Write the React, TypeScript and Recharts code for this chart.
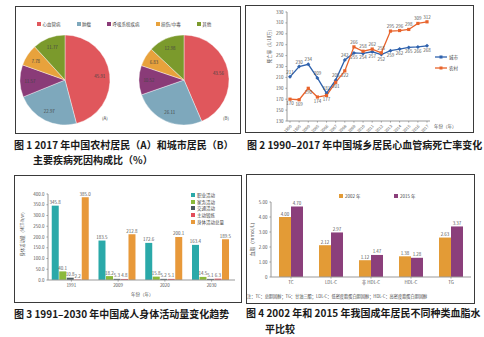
import React from 'react';
import {
  PieChart, Pie, Cell, LineChart, Line, BarChart, Bar, XAxis, YAxis, LabelList,
} from 'recharts';

const FONT = '"Noto Sans CJK SC", "Noto Sans", sans-serif';

// 图1 死因构成
const causeNames = ['心血管病', '肿瘤', '呼吸系统疾病', '损伤/中毒', '其他'];
const causeColors = ['#e0575c', '#7ea8bc', '#8a3b78', '#e8a23c', '#7b9a2c'];
const ruralShare = [45.91, 22.97, 11.57, 7.78, 11.77];
const urbanShare = [43.56, 26.11, 10.52, 6.83, 12.98];

// 图2 死亡率（1/10万）
const years = ['1990', '1995', '2000', '2005', '2006', '2007', '2008', '2009', '2010', '2011', '2012', '2013', '2014', '2015', '2016', '2017'];
const urbanRate = [211, 230, 234, 209, 181, 205, 242, 255, 254, 257, 252, 259, 262, 265, 266, 268];
const ruralRate = [170, 169, 190, 174, 177, 201, 222, 266, 258, 262, 255, 295, 296, 298, 309, 312];
const rateTicks = [130, 150, 170, 190, 210, 230, 250, 270, 290, 310, 330];

// 图3 身体活动量（MET-h/w）
const activityYears = ['1991', '2009', '2020', '2030'];
const occupational = [345.8, 183.5, 172.6, 163.4];
const domestic = [40.1, 18.2, 15.8, 14.5];
const transport = [10.8, 5.3, 5.2, 5.1];
const exercise = [2.2, 4.8, 5.1, 6.3];
const totalActivity = [385.0, 212.8, 200.1, 189.5];
const activityTicks = [0, 50, 100, 150, 200, 250, 300, 350, 400];

// 图4 血脂（mmol/L）
const lipidNames = ['TC', 'LDL-C', '非 HDL-C', 'HDL-C', 'TG'];
const lipid2002 = [4.0, 2.12, 1.12, 1.38, 2.63];
const lipid2015 = [4.7, 2.97, 1.47, 1.28, 3.37];
const lipidTicks = [0, 1, 2, 3, 4, 5];

const URBAN = '#2f62ad';
const RURAL = '#e8632b';
const activitySeries = [
  { key: 'occ', name: '职业活动', color: '#2aa9a9', values: occupational },
  { key: 'dom', name: '家务活动', color: '#8bb93a', values: domestic },
  { key: 'tra', name: '交通活动', color: '#4b5a61', values: transport },
  { key: 'exe', name: '主动锻炼', color: '#e24d5a', values: exercise },
  { key: 'tot', name: '身体活动总量', color: '#e8993a', values: totalActivity },
];

const pieRural = causeNames.map((name, i) => ({ name, value: ruralShare[i] }));
const pieUrban = causeNames.map((name, i) => ({ name, value: urbanShare[i] }));
const rateData = years.map((year, i) => ({ year, urban: urbanRate[i], rural: ruralRate[i] }));
const activityData = activityYears.map((year, i) => {
  const row: any = { year };
  activitySeries.forEach((s) => { row[s.key] = s.values[i]; });
  return row;
});
const lipidData = lipidNames.map((name, i) => ({ name, y2002: lipid2002[i], y2015: lipid2015[i] }));

const tiny = { fontSize: 4.5, fill: '#555', fontFamily: FONT };
const RADIAN = Math.PI / 180;

function pieLabel(p: any) {
  const r = p.outerRadius * 0.78;
  const x = p.cx + r * Math.cos(-p.midAngle * RADIAN);
  const y = p.cy + r * Math.sin(-p.midAngle * RADIAN);
  return (
    <text x={x} y={y} textAnchor="middle" dominantBaseline="central" fontSize={4.4} fill="#444" fontFamily={FONT}>
      {p.value.toFixed(2)}
    </text>
  );
}

function rateLabel(series: 'urban' | 'rural') {
  return (p: any) => {
    const other = series === 'urban' ? ruralRate[p.index] : urbanRate[p.index];
    const above = p.value >= other;
    return (
      <text x={p.x} y={above ? p.y - 3 : p.y + 6} textAnchor="middle" {...tiny}>
        {p.value}
      </text>
    );
  };
}

const diamond = (p: any) => (
  <path key={`d${p.index}`} d={`M${p.cx},${p.cy - 2}L${p.cx + 2},${p.cy}L${p.cx},${p.cy + 2}L${p.cx - 2},${p.cy}Z`} fill={URBAN} />
);
const square = (p: any) => (
  <rect key={`s${p.index}`} x={p.cx - 1.6} y={p.cy - 1.6} width={3.2} height={3.2} fill={RURAL} />
);

const Box = ({ x, y, w, h }: any) => (
  <div style={{ position: 'absolute', left: x, top: y, width: w, height: h, border: '1px solid #3a3a3a', boxSizing: 'border-box' }} />
);

const At = ({ x, y, children, style }: any) => (
  <div style={{ position: 'absolute', left: x, top: y, whiteSpace: 'nowrap', lineHeight: 1, ...style }}>{children}</div>
);

const Rot = ({ x, y, size, children }: any) => (
  <div style={{ position: 'absolute', left: x, top: y, transform: 'translate(-50%, -50%) rotate(-90deg)', fontSize: size, whiteSpace: 'nowrap', color: '#555', lineHeight: 1 }}>
    {children}
  </div>
);

const Caption = ({ x, y, children }: any) => (
  <At x={x} y={y} style={{ fontSize: 10, fontWeight: 700, color: '#1a1a1a', lineHeight: '12px' }}>{children}</At>
);

export default function App() {
  return (
    <div style={{ position: 'absolute', left: 0, top: 0, width: 484, height: 337, background: '#fff', fontFamily: FONT, overflow: 'hidden' }}>
      {/* 图1 */}
      <Box x={15} y={6} w={226} h={128} />
      <div style={{ position: 'absolute', left: 37, top: 21, display: 'flex', gap: 16, fontSize: 4.5, color: '#444' }}>
        {causeNames.map((n, i) => (
          <div key={n} style={{ display: 'flex', alignItems: 'center', gap: 1.5 }}>
            <span style={{ width: 4, height: 4, background: causeColors[i], display: 'inline-block' }} />
            <span>{n}</span>
          </div>
        ))}
      </div>
      <div style={{ position: 'absolute', left: 15, top: 7 }}>
        <PieChart width={225} height={126} margin={{ top: 0, right: 0, bottom: 0, left: 0 }}>
          <Pie data={pieRural} dataKey="value" cx={50} cy={73} outerRadius={45} startAngle={90} endAngle={-270}
            stroke="#fff" strokeWidth={0.4} label={pieLabel} labelLine={false} isAnimationActive={false}>
            {pieRural.map((d, i) => <Cell key={d.name} fill={causeColors[i]} />)}
          </Pie>
          <Pie data={pieUrban} dataKey="value" cx={169} cy={73} outerRadius={45} startAngle={90} endAngle={-270}
            stroke="#fff" strokeWidth={0.4} label={pieLabel} labelLine={false} isAnimationActive={false}>
            {pieUrban.map((d, i) => <Cell key={d.name} fill={causeColors[i]} />)}
          </Pie>
        </PieChart>
      </div>
      <At x={102} y={116} style={{ fontSize: 4.5, color: '#444' }}>(A)</At>
      <At x={223} y={116} style={{ fontSize: 4.5, color: '#444' }}>(B)</At>
      <Caption x={14} y={139}>图 1 2017 年中国农村居民（A）和城市居民（B）</Caption>
      <Caption x={33} y={154}>主要疾病死因构成比（%）</Caption>

      {/* 图2 */}
      <Box x={245} y={5} w={229} h={128} />
      <div style={{ position: 'absolute', left: 245, top: 5 }}>
        <LineChart width={228} height={134} data={rateData} margin={{ top: 7, right: 43, bottom: 0, left: 0 }}>
          <XAxis dataKey="year" interval={0} angle={-45} textAnchor="end" height={18} tickSize={1.5}
            tick={{ ...tiny, fontSize: 4 }} stroke="#999" padding={{ left: 3, right: 3 }} />
          <YAxis domain={[130, 330]} ticks={rateTicks} width={42} tickSize={1.5} tick={tiny} stroke="#999" interval={0} />
          <Line dataKey="urban" stroke={URBAN} strokeWidth={1.3} dot={diamond} activeDot={false} isAnimationActive={false}>
            <LabelList dataKey="urban" content={rateLabel('urban')} />
          </Line>
          <Line dataKey="rural" stroke={RURAL} strokeWidth={1.3} dot={square} activeDot={false} isAnimationActive={false}>
            <LabelList dataKey="rural" content={rateLabel('rural')} />
          </Line>
        </LineChart>
      </div>
      <Rot x={269} y={45} size={4.5}>死亡率（1/10万）</Rot>
      {[{ n: '城市', c: URBAN, y: 54 }, { n: '农村', c: RURAL, y: 65 }].map((l) => (
        <div key={l.n} style={{ position: 'absolute', left: 435, top: l.y, display: 'flex', alignItems: 'center', gap: 2, fontSize: 4.5, color: '#444' }}>
          <svg width={12} height={4}>
            <line x1={0} y1={2} x2={12} y2={2} stroke={l.c} strokeWidth={1.3} />
            <rect x={4.5} y={0.5} width={3} height={3} fill={l.c} />
          </svg>
          <span>{l.n}</span>
        </div>
      ))}
      <At x={434} y={124} style={{ fontSize: 4.5, color: '#555' }}>年份（年）</At>
      <Caption x={247} y={139}>图 2 1990–2017 年中国城乡居民心血管病死亡率变化</Caption>

      {/* 图3 */}
      <Box x={14} y={175} w={228} h={128} />
      <div style={{ position: 'absolute', left: 14, top: 175 }}>
        <BarChart width={227} height={127} data={activityData} margin={{ top: 19, right: 6, bottom: 10, left: 0 }}
          barCategoryGap="8%" barGap={0.5}>
          <XAxis dataKey="year" height={12} tickSize={1.5} tick={tiny} stroke="#999" />
          <YAxis domain={[0, 400]} ticks={activityTicks} width={34} tickSize={1.5} tick={tiny} stroke="#999"
            tickFormatter={(v: number) => v.toFixed(1)} interval={0} />
          {activitySeries.map((s) => (
            <Bar key={s.key} dataKey={s.key} fill={s.color} isAnimationActive={false}>
              <LabelList dataKey={s.key} position="top" offset={1.5} style={tiny} formatter={(v: any) => Number(v).toFixed(1)} />
            </Bar>
          ))}
        </BarChart>
      </div>
      <Rot x={22} y={233} size={4.2}>身体活动量（MET-h/w）</Rot>
      <div style={{ position: 'absolute', left: 191, top: 192, fontSize: 4.5, color: '#444' }}>
        {activitySeries.map((s) => (
          <div key={s.key} style={{ display: 'flex', alignItems: 'center', gap: 2, height: 6.6 }}>
            <span style={{ width: 4, height: 4, background: s.color, display: 'inline-block' }} />
            <span>{s.name}</span>
          </div>
        ))}
      </div>
      <At x={131} y={292} style={{ fontSize: 4.5, color: '#555' }}>年份（年）</At>
      <Caption x={14} y={308}>图 3 1991–2030 年中国成人身体活动量变化趋势</Caption>

      {/* 图4 */}
      <Box x={246} y={174} w={229} h={130} />
      <div style={{ position: 'absolute', left: 246, top: 174 }}>
        <BarChart width={229} height={129} data={lipidData} margin={{ top: 28, right: 4, bottom: 16, left: 0 }}
          barCategoryGap="20%" barGap={0}>
          <XAxis dataKey="name" height={10} tickSize={1.5} tick={tiny} stroke="#999" />
          <YAxis domain={[0, 5]} ticks={lipidTicks} width={25} tickSize={1.5} tick={tiny} stroke="#999"
            tickFormatter={(v: number) => (v === 0 ? '0' : v.toFixed(2))} interval={0} />
          <Bar dataKey="y2002" fill="#e39b36" isAnimationActive={false}>
            <LabelList dataKey="y2002" position="top" offset={1.5} style={tiny} formatter={(v: any) => Number(v).toFixed(2)} />
          </Bar>
          <Bar dataKey="y2015" fill="#8b3f7b" isAnimationActive={false}>
            <LabelList dataKey="y2015" position="top" offset={1.5} style={tiny} formatter={(v: any) => Number(v).toFixed(2)} />
          </Bar>
        </BarChart>
      </div>
      <Rot x={252} y={238} size={4.8}>血脂（mmol/L）</Rot>
      {[{ n: '2002 年', c: '#e39b36', x: 339 }, { n: '2015 年', c: '#8b3f7b', x: 394 }].map((l) => (
        <div key={l.n} style={{ position: 'absolute', left: l.x, top: 193, display: 'flex', alignItems: 'center', gap: 2, fontSize: 4.5, color: '#444' }}>
          <span style={{ width: 4, height: 4, background: l.c, display: 'inline-block' }} />
          <span>{l.n}</span>
        </div>
      ))}
      <At x={247} y={294} style={{ fontSize: 4.2, color: '#444' }}>
        注：TC：总胆固醇；TG：甘油三酯；LDL-C：低密度脂蛋白胆固醇；HDL-C：高密度脂蛋白胆固醇
      </At>
      <Caption x={246} y={307}>图 4 2002 年和 2015 年我国成年居民不同种类血脂水</Caption>
      <Caption x={265} y={323}>平比较</Caption>
    </div>
  );
}
